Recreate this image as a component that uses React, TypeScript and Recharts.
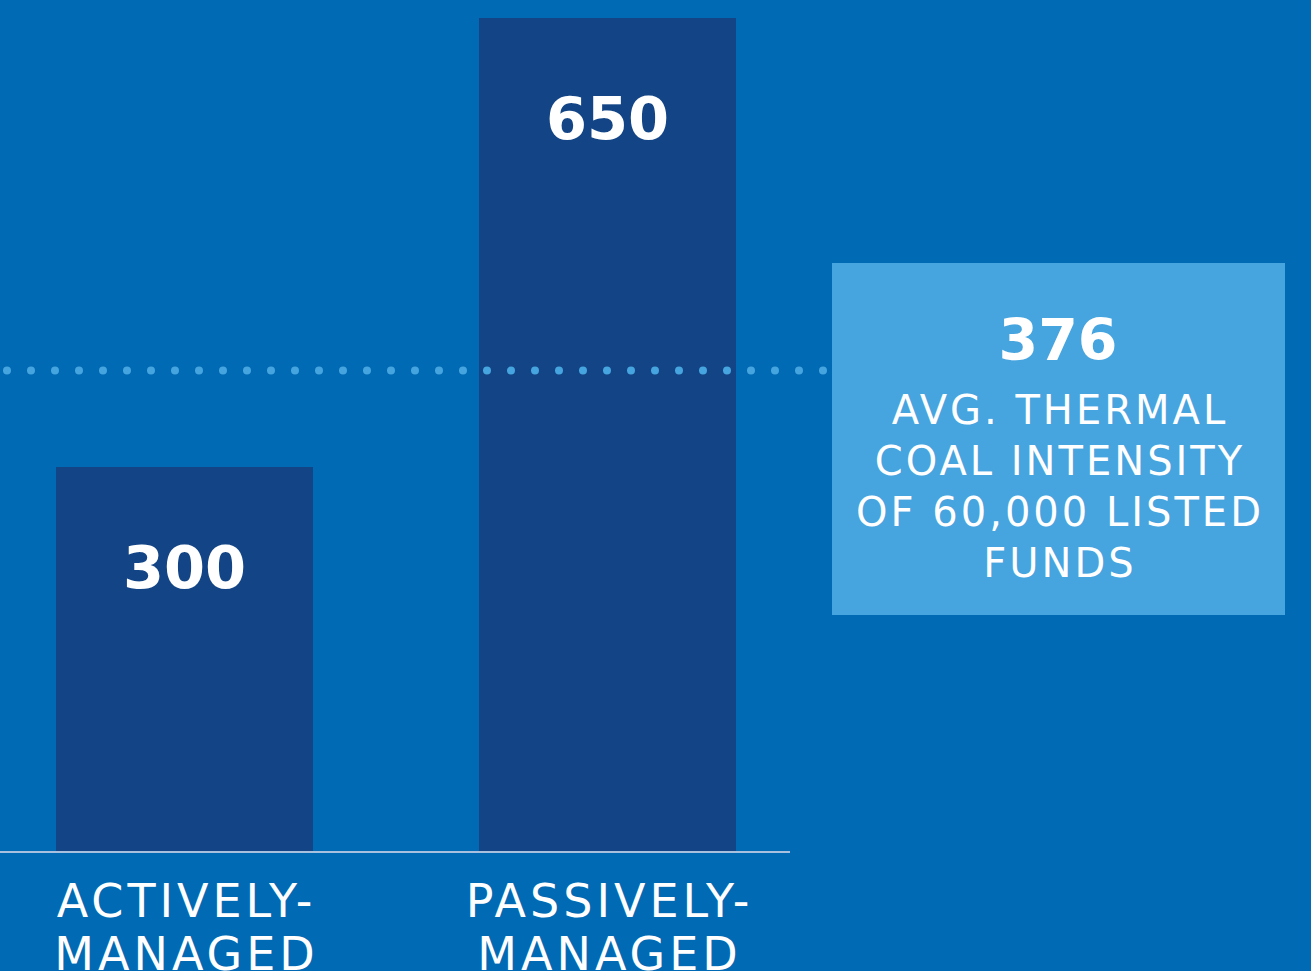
import React from 'react';
import { BarChart, Bar, XAxis, YAxis, ReferenceLine, LabelList } from 'recharts';

// values
const categories = ['ACTIVELY-|MANAGED', 'PASSIVELY-|MANAGED'];
const intensity = [300, 650];
const avgIntensity = 376;
const avgLines = ['AVG. THERMAL', 'COAL INTENSITY', 'OF 60,000 LISTED', 'FUNDS'];

const data = categories.map((c, i) => ({ name: c, value: intensity[i] }));

const FONT = '"DejaVu Sans", sans-serif';
const BG = '#006ab4';
const BAR = '#134586';
const LIGHT = '#46a4df';

const Tick = (props: any) => {
  const { x, y, payload } = props;
  const lines = String(payload.value).split('|');
  return (
    <text x={x} y={y} textAnchor="middle" fill="#fff" fontFamily={FONT} fontSize={46} letterSpacing={4}>
      {lines.map((l, i) => (
        <tspan key={i} x={x + 2} y={y + 65 + i * 53}>{l}</tspan>
      ))}
    </text>
  );
};

const BarValue = (props: any) => {
  const { x, y, width, value } = props;
  return (
    <text x={x + width / 2} y={y + 121} textAnchor="middle" fill="#fff" fontFamily={FONT} fontWeight="bold" fontSize={59}>
      {value}
    </text>
  );
};

// dotted average line, runs a little past the plot up to the box
const DotLine = (props: any) => {
  const { x1, y1, x2 } = props;
  return (
    <line x1={x1} y1={y1 + 1} x2={x2 + 36} y2={y1 + 1} stroke={LIGHT} strokeWidth={8}
      strokeLinecap="round" strokeDasharray="0 24" strokeDashoffset={17} />
  );
};

export default function App() {
  return (
    <div style={{ position: 'absolute', left: 0, top: 0, width: 1311, height: 971, background: BG, overflow: 'hidden' }}>
      <BarChart width={1311} height={971} data={data} margin={{ top: 18, right: 521, bottom: 0, left: 0 }}>
        <XAxis dataKey="name" height={119} padding={{ left: -27, right: -29 }}
          axisLine={{ stroke: '#a9c1de', strokeWidth: 2 }} tickLine={false} tickSize={0} tickMargin={0}
          interval={0} tick={<Tick />} />
        <YAxis hide domain={[0, 650]} />
        <ReferenceLine y={avgIntensity} shape={<DotLine />} />
        <Bar dataKey="value" fill={BAR} barSize={257} isAnimationActive={false}>
          <LabelList dataKey="value" content={<BarValue />} />
        </Bar>
      </BarChart>
      <svg width={1311} height={971} style={{ position: 'absolute', left: 0, top: 0, pointerEvents: 'none' }}>
        <rect x={832} y={263} width={453} height={352} fill={LIGHT} />
        <text x={1058} y={360} textAnchor="middle" fill="#fff" fontFamily={FONT} fontWeight="bold" fontSize={57}>
          {avgIntensity}
        </text>
        <text textAnchor="middle" fill="#fff" fontFamily={FONT} fontSize={40} letterSpacing={3}>
          {avgLines.map((l, i) => (
            <tspan key={i} x={1060} y={424 + i * 51}>{l}</tspan>
          ))}
        </text>
      </svg>
    </div>
  );
}
